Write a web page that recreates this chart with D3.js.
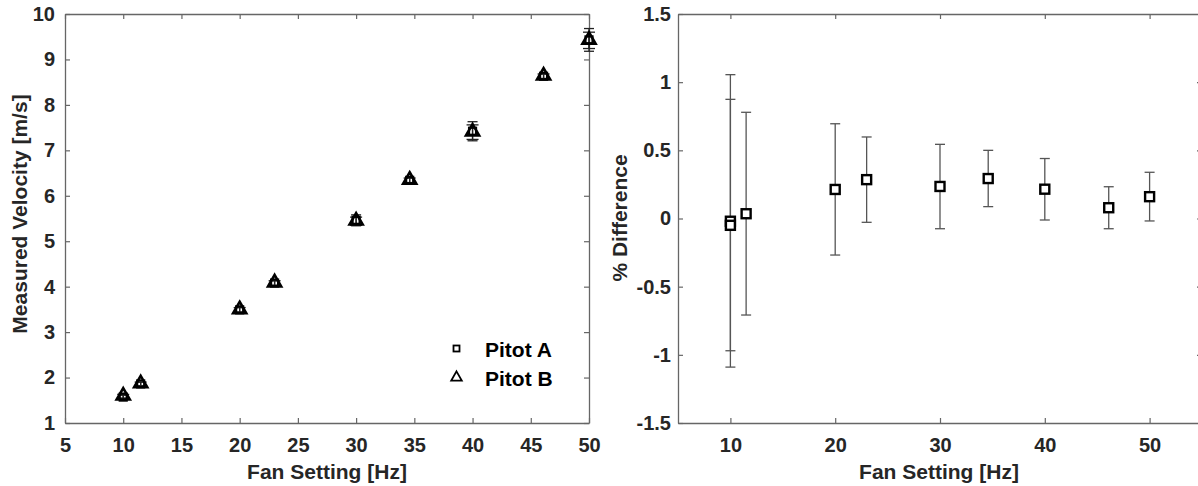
<!DOCTYPE html>
<html><head><meta charset="utf-8">
<script src="https://cdn.jsdelivr.net/npm/d3@7"></script>
<style>
html,body{margin:0;padding:0;background:#fff;}
text{font-family:"Liberation Sans",Arial,sans-serif;font-weight:bold;}
</style></head>
<body><svg id="c" width="1198" height="486"></svg>
<script>
// ---- Data ----
const fanHz = [10, 11.5, 20, 23, 30, 34.6, 40, 46.1, 50];
const velA = [1.57, 1.86, 3.49, 4.08, 5.46, 6.34, 7.42, 8.63, 9.43];
const velB = [1.59, 1.86, 3.49, 4.08, 5.44, 6.34, 7.40, 8.63, 9.42];
const errA = [0.04, 0.04, 0.05, 0.05, 0.12, 0.05, 0.21, 0.05, 0.25];
const errB = [0.04, 0.04, 0.05, 0.05, 0.09, 0.05, 0.16, 0.05, 0.18];
// right panel: % difference (two entries at 10 Hz)
const diffHz = [10, 10, 11.5, 20, 23, 30, 34.6, 40, 46.1, 50];
const diffMean = [-0.02, -0.05, 0.035, 0.213, 0.285, 0.235, 0.293, 0.215, 0.079, 0.16];
const diffHi = [1.055, 0.874, 0.779, 0.695, 0.598, 0.544, 0.50, 0.44, 0.233, 0.339];
const diffLo = [-1.09, -0.97, -0.708, -0.268, -0.028, -0.075, 0.087, -0.011, -0.075, -0.018];
const leftXTicks = [5, 10, 15, 20, 25, 30, 35, 40, 45, 50];
const leftYTicks = [1, 2, 3, 4, 5, 6, 7, 8, 9, 10];
const rightXTicks = [10, 20, 30, 40, 50];
const rightYTicks = [-1.5, -1, -0.5, 0, 0.5, 1, 1.5];
const legendLabels = ["Pitot A", "Pitot B"];

const svg = d3.select("#c");
svg.append("rect").attr("width",1198).attr("height",486).attr("fill","#fff");

const AX = "#666", TXT = "#262626";

function frame(x, y, xt, yt, xPad, yPad, fmtY) {
  const [x0,x1] = x.range(), [y0,y1] = y.range();
  const g = svg.append("g");
  const ax = (gen, tr) => {
    const a = g.append("g").attr("transform", tr).call(gen);
    a.select(".domain").attr("stroke", AX).attr("stroke-width", 1.3);
    a.selectAll(".tick line").attr("stroke", AX).attr("stroke-width", 1.2);
    a.selectAll(".tick text").attr("fill", TXT).style("font-size","20px").style("font-weight","bold")
      .style("font-family",'"Liberation Sans",Arial,sans-serif');
    return a;
  };
  ax(d3.axisBottom(x).tickValues(xt).tickSizeInner(-5).tickSizeOuter(0).tickPadding(xPad).tickFormat(d3.format("d")), `translate(0,${y0})`);
  ax(d3.axisTop(x).tickValues(xt).tickSizeInner(-5).tickSizeOuter(0).tickFormat(""), `translate(0,${y1})`);
  ax(d3.axisLeft(y).tickValues(yt).tickSizeInner(-5).tickSizeOuter(0).tickPadding(yPad).tickFormat(fmtY), `translate(${x0},0)`);
  ax(d3.axisRight(y).tickValues(yt).tickSizeInner(-5).tickSizeOuter(0).tickFormat(""), `translate(${x1},0)`);
  return g;
}

// ---- Left panel ----
const xL = d3.scaleLinear([5, 50], [65, 589]);
const yL = d3.scaleLinear([1, 10], [423, 14]);
frame(xL, yL, leftXTicks, leftYTicks, 15, 10, d => String(d));

const gL = svg.append("g");
function errbars(g, xs, ys, es, capW, col, sw) {
  xs.forEach((xv, i) => {
    const cx = xL(xv), hi = yL(ys[i] + es[i]), lo = yL(ys[i] - es[i]);
    g.append("line").attr("x1",cx).attr("x2",cx).attr("y1",hi).attr("y2",lo).attr("stroke",col).attr("stroke-width",sw);
    [hi, lo].forEach(yy => g.append("line").attr("x1",cx-capW/2).attr("x2",cx+capW/2).attr("y1",yy).attr("y2",yy).attr("stroke",col).attr("stroke-width",sw));
  });
}
errbars(gL, fanHz, velA, errA, 10, "#222", 1.3);
errbars(gL, fanHz, velB, errB, 12, "#222", 1.3);

const tri = d3.symbol().type(d3.symbolTriangle).size(75);
fanHz.forEach((xv, i) => {
  gL.append("path").attr("d", tri()).attr("transform", `translate(${xL(xv)},${yL(velB[i]) - 0.5})`)
    .attr("fill","none").attr("stroke","#000").attr("stroke-width",2.6);
  gL.append("rect").attr("x", xL(xv)-3.5).attr("y", yL(velA[i])-3.5).attr("width",7).attr("height",7)
    .attr("fill","none").attr("stroke","#000").attr("stroke-width",2.2);
});

// legend
const lg = svg.append("g");
lg.append("rect").attr("x",453.5).attr("y",345.5).attr("width",6).attr("height",6).attr("fill","none").attr("stroke","#000").attr("stroke-width",1.8);
lg.append("path").attr("d", d3.symbol().type(d3.symbolTriangle).size(48)()).attr("transform","translate(456.5,377.5)")
  .attr("fill","none").attr("stroke","#000").attr("stroke-width",1.8);
legendLabels.forEach((t, i) => lg.append("text").attr("x",485).attr("y",357 + i*28.5).attr("fill","#000").style("font-size","21px").text(t));

// axis titles left
svg.append("text").attr("x",327).attr("y",479).attr("text-anchor","middle").attr("fill",TXT).style("font-size","21px").text("Fan Setting [Hz]");
svg.append("text").attr("transform","translate(27,214) rotate(-90)").attr("text-anchor","middle").attr("fill",TXT).style("font-size","21px").text("Measured Velocity [m/s]");

// ---- Right panel ----
const xR = d3.scaleLinear([5, 55], [678, 1202]);
const yR = d3.scaleLinear([-1.5, 1.5], [423, 14]);
frame(xR, yR, rightXTicks, rightYTicks, 15, 7, d => d3.format("")(d).replace("−","-"));

const gR = svg.append("g");
diffHz.forEach((xv, i) => {
  const cx = xR(xv), hi = yR(diffHi[i]), lo = yR(diffLo[i]);
  gR.append("line").attr("x1",cx).attr("x2",cx).attr("y1",hi).attr("y2",lo).attr("stroke","#555").attr("stroke-width",1.3);
  [hi, lo].forEach(yy => gR.append("line").attr("x1",cx-5).attr("x2",cx+5).attr("y1",yy).attr("y2",yy).attr("stroke","#555").attr("stroke-width",1.3));
});
diffHz.forEach((xv, i) => {
  gR.append("rect").attr("x", xR(xv)-4.5).attr("y", yR(diffMean[i])-4.5).attr("width",9).attr("height",9)
    .attr("fill","#fff").attr("stroke","#000").attr("stroke-width",2.4);
});

svg.append("text").attr("x",939).attr("y",479).attr("text-anchor","middle").attr("fill",TXT).style("font-size","21px").text("Fan Setting [Hz]");
svg.append("text").attr("transform","translate(627,218) rotate(-90)").attr("text-anchor","middle").attr("fill",TXT).style("font-size","21px").text("% Difference");
</script></body></html>
